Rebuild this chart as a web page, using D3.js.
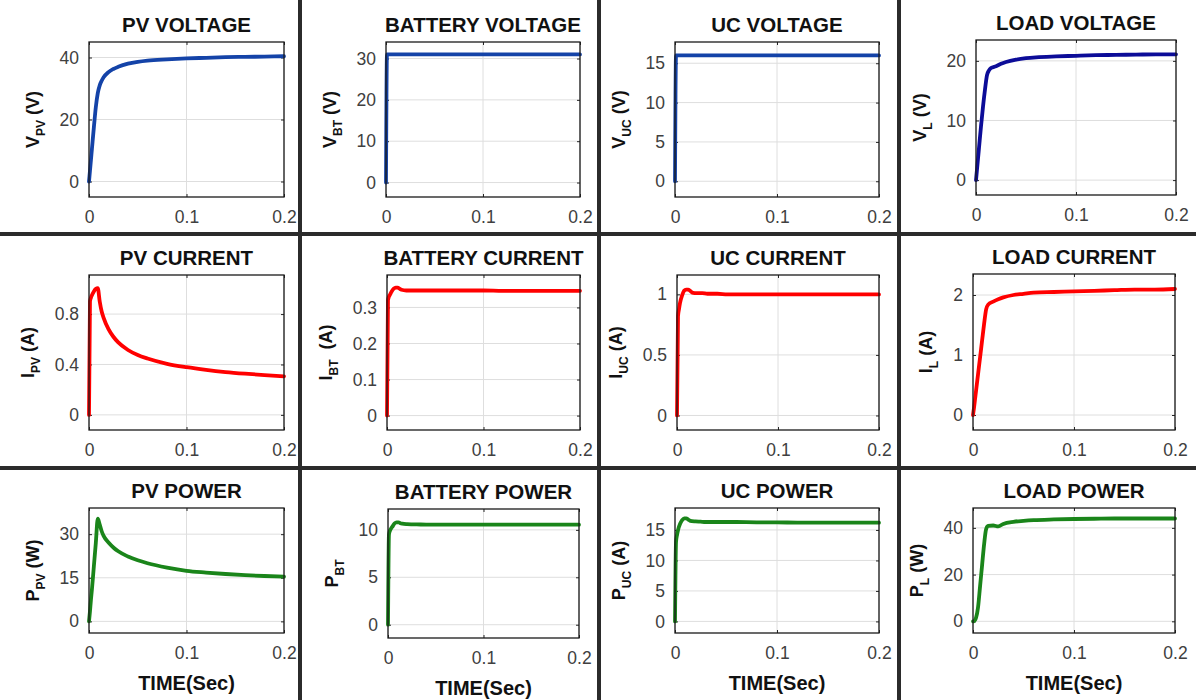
<!DOCTYPE html>
<html>
<head>
<meta charset="utf-8">
<script src="https://cdn.jsdelivr.net/npm/d3@7"></script>
<style>
  html, body { margin: 0; padding: 0; background: #fff; }
  svg { display: block; font-family: "Liberation Sans", Arial, Helvetica, sans-serif; }
</style>
</head>
<body>
<svg id="chart" width="1196" height="700"></svg>
<script>
// ---------- DATA ----------
const T        = [0, 0.001, 0.002, 0.003, 0.005, 0.007, 0.009, 0.011, 0.013, 0.015, 0.02, 0.025, 0.03, 0.04, 0.05, 0.06, 0.08, 0.1, 0.12, 0.14, 0.16, 0.18, 0.2];

const vPV      = [0, 3.5, 7, 10.5, 17.5, 24, 28.5, 31, 32.5, 33.6, 35.3, 36.3, 37, 38, 38.6, 39, 39.4, 39.7, 39.9, 40.1, 40.2, 40.3, 40.4];
const vBT      = [0, 31, 31, 31, 31, 31, 31, 31, 31, 31, 31, 31, 31, 31, 31, 31, 31, 31, 31, 31, 31, 31, 31];
const vUC      = [0, 16, 16, 16, 16, 16, 16, 16, 16, 16, 16, 16, 16, 16, 16, 16, 16, 16, 16, 16, 16, 16, 16];
const vL       = [0, 1.8, 3.6, 5.4, 9, 12.3, 15.2, 17.6, 18.4, 18.8, 19.1, 19.5, 19.8, 20.2, 20.45, 20.6, 20.75, 20.85, 20.95, 21.0, 21.05, 21.1, 21.1];

const iPV      = [0, 0.9, 0.93, 0.95, 0.98, 1.0, 1.005, 0.9, 0.82, 0.77, 0.68, 0.62, 0.575, 0.515, 0.475, 0.447, 0.405, 0.378, 0.357, 0.34, 0.327, 0.316, 0.306];
const iBT      = [0, 0.32, 0.33, 0.335, 0.345, 0.352, 0.355, 0.355, 0.352, 0.349, 0.347, 0.347, 0.347, 0.347, 0.347, 0.347, 0.347, 0.347, 0.346, 0.346, 0.346, 0.346, 0.346];
const iUC      = [0, 0.82, 0.88, 0.93, 0.99, 1.03, 1.04, 1.04, 1.03, 1.015, 1.01, 1.01, 1.005, 1.005, 1.0, 1.0, 1.0, 1.0, 1.0, 1.0, 1.0, 1.0, 1.0];
const iL       = [0, 0.12, 0.26, 0.4, 0.68, 0.96, 1.24, 1.52, 1.76, 1.84, 1.89, 1.93, 1.96, 2.0, 2.02, 2.04, 2.05, 2.06, 2.07, 2.08, 2.09, 2.09, 2.1];

const pPV      = [0, 3.5, 7.5, 11, 19, 27, 35.3, 33.3, 31, 29.4, 27.1, 25.4, 24.1, 22.3, 21.0, 20.0, 18.5, 17.4, 16.8, 16.3, 15.9, 15.6, 15.4];
const pBT      = [0, 9.5, 9.9, 10.1, 10.4, 10.7, 10.8, 10.8, 10.7, 10.65, 10.6, 10.58, 10.57, 10.56, 10.55, 10.55, 10.55, 10.55, 10.55, 10.55, 10.55, 10.55, 10.55];
const pUC      = [0, 13, 14.2, 15, 16, 16.6, 16.9, 16.9, 16.7, 16.5, 16.4, 16.35, 16.3, 16.3, 16.3, 16.3, 16.25, 16.25, 16.2, 16.2, 16.2, 16.2, 16.2];
const pL       = [0, 0, 0.5, 1.5, 6, 15, 24, 33, 39.5, 40.8, 41, 40.6, 41.7, 42.6, 43, 43.3, 43.6, 43.8, 43.9, 44, 44, 44, 44];

const titles   = ["PV VOLTAGE", "BATTERY VOLTAGE", "UC VOLTAGE", "LOAD VOLTAGE",
                  "PV CURRENT", "BATTERY CURRENT", "UC CURRENT", "LOAD CURRENT",
                  "PV POWER", "BATTERY POWER", "UC POWER", "LOAD POWER"];
const yLabMain = ["V", "V", "V", "V", "I", "I", "I", "I", "P", "P", "P", "P"];
const yLabSub  = ["PV", "BT", "UC", "L", "PV", "BT", "UC", "L", "PV", "BT", "UC", "L"];
const yLabUnit = [" (V)", " (V)", " (V)", " (V)", " (A)", "  (A)", " (A)", " (A)", " (W)", "", " (A)", " (W)"];
const yDomains = [[-5, 45], [-3.5, 34], [-2, 17.7], [-2.5, 23.5],
                  [-0.12, 1.11], [-0.04, 0.39], [-0.12, 1.16], [-0.25, 2.35],
                  [-4, 39], [-1.4, 12.2], [-1.9, 18.6], [-5, 48.5]];
const yTicks   = [[0, 20, 40], [0, 10, 20, 30], [0, 5, 10, 15], [0, 10, 20],
                  [0, 0.4, 0.8], [0, 0.1, 0.2, 0.3], [0, 0.5, 1], [0, 1, 2],
                  [0, 15, 30], [0, 5, 10], [0, 5, 10, 15], [0, 20, 40]];
const xTicks   = [0, 0.1, 0.2];
const xDomain  = [0, 0.2];
const xLabel   = "TIME(Sec)";
const series   = [vPV, vBT, vUC, vL, iPV, iBT, iUC, iL, pPV, pBT, pUC, pL];

// ---------- LAYOUT / STYLE ----------
const boxes = [ // [left, right, top, bottom]
  [89, 284, 42, 197], [386, 580, 42, 197], [675, 879, 42, 197], [976, 1176, 40, 195],
  [89, 284, 275, 430], [387, 580, 275, 430], [677, 879, 275, 430], [973, 1175, 274, 430],
  [89, 284, 508, 633], [388, 579, 509, 638], [675, 879, 508, 633], [973, 1175, 508, 633]
];
const lineColors = ["#1443a8", "#1443a8", "#1443a8", "#0c0c98",
                    "#ff0000", "#ff0000", "#ff0000", "#ff0000",
                    "#1a851a", "#1a851a", "#1a851a", "#1a851a"];

const svg = d3.select("#chart");
const FONT = '"Liberation Sans", Arial, Helvetica, sans-serif';

boxes.forEach((b, i) => {
  const [L, R, Tp, B] = b;
  const x = d3.scaleLinear().domain(xDomain).range([L, R]);
  const y = d3.scaleLinear().domain(yDomains[i]).range([B, Tp]);
  const g = svg.append("g");

  // grid
  g.selectAll(".gx").data(xTicks).enter().append("line")
    .attr("x1", d => x(d)).attr("x2", d => x(d)).attr("y1", Tp).attr("y2", B)
    .attr("stroke", "#dedede").attr("stroke-width", 1);
  g.selectAll(".gy").data(yTicks[i]).enter().append("line")
    .attr("x1", L).attr("x2", R).attr("y1", d => y(d)).attr("y2", d => y(d))
    .attr("stroke", "#dedede").attr("stroke-width", 1);

  // axes (ticks inside, labels outside)
  const ax = g.append("g").attr("transform", `translate(0,${B})`)
    .call(d3.axisBottom(x).tickValues(xTicks).tickSize(-3).tickPadding(14).tickFormat(d3.format("")));
  const ay = g.append("g").attr("transform", `translate(${L},0)`)
    .call(d3.axisLeft(y).tickValues(yTicks[i]).tickSize(-3).tickPadding(10).tickFormat(d3.format("")));
  g.append("g").attr("transform", `translate(0,${Tp})`)
    .call(d3.axisTop(x).tickValues(xTicks).tickSize(-3).tickFormat(""));
  g.append("g").attr("transform", `translate(${R},0)`)
    .call(d3.axisRight(y).tickValues(yTicks[i]).tickSize(-3).tickFormat(""));
  g.selectAll(".domain").remove();
  g.selectAll(".tick line").attr("stroke", "#262626").attr("stroke-width", 1);
  [ax, ay].forEach(a => a.selectAll("text")
    .attr("fill", "#404040").style("font-family", FONT).style("font-size", "17.5px"));
  ax.selectAll("text").attr("dy", "0.71em");

  // curve
  const line = d3.line().x((d, k) => x(T[k])).y(d => y(d)).curve(d3.curveMonotoneX);
  g.append("path").datum(series[i]).attr("d", line)
    .attr("fill", "none").attr("stroke", lineColors[i]).attr("stroke-width", 3.8)
    .attr("stroke-linejoin", "round").attr("stroke-linecap", "round");

  // box
  g.append("rect").attr("x", L).attr("y", Tp).attr("width", R - L).attr("height", B - Tp)
    .attr("fill", "none").attr("stroke", "#1a1a1a").attr("stroke-width", 1.3);

  // title
  g.append("text").attr("x", (L + R) / 2).attr("y", Tp - 10)
    .attr("text-anchor", "middle").attr("fill", "#111")
    .style("font-family", FONT).style("font-size", "20.5px").style("font-weight", "bold")
    .text(titles[i]);

  // y label
  let maxW = 0;
  ay.selectAll("text").each(function () { maxW = Math.max(maxW, this.getComputedTextLength()); });
  const lx = L - 10 - maxW - 21;
  const yl = g.append("text")
    .attr("transform", `translate(${lx},${(Tp + B) / 2}) rotate(-90)`)
    .attr("text-anchor", "middle").attr("fill", "#111")
    .style("font-family", FONT).style("font-size", "18px").style("font-weight", "bold")
    .attr("xml:space", "preserve").style("white-space", "pre");
  yl.append("tspan").text(yLabMain[i]);
  yl.append("tspan").attr("dy", 6).style("font-size", "12px").text(yLabSub[i]);
  if (yLabUnit[i]) yl.append("tspan").attr("dy", -6).text(yLabUnit[i]);

  // x label on bottom row
  if (i >= 8) {
    g.append("text").attr("x", (L + R) / 2).attr("y", B + 57)
      .attr("text-anchor", "middle").attr("fill", "#111")
      .style("font-family", FONT).style("font-size", "20px").style("font-weight", "bold")
      .text(xLabel);
  }
});

// panel separators
const sep = svg.append("g").attr("stroke", "#2b2b2b").attr("stroke-width", 4);
[300, 599, 899].forEach(sx => sep.append("line").attr("x1", sx).attr("x2", sx).attr("y1", 0).attr("y2", 700));
[234, 468].forEach(sy => sep.append("line").attr("x1", 0).attr("x2", 1196).attr("y1", sy).attr("y2", sy));
</script>
</body>
</html>
